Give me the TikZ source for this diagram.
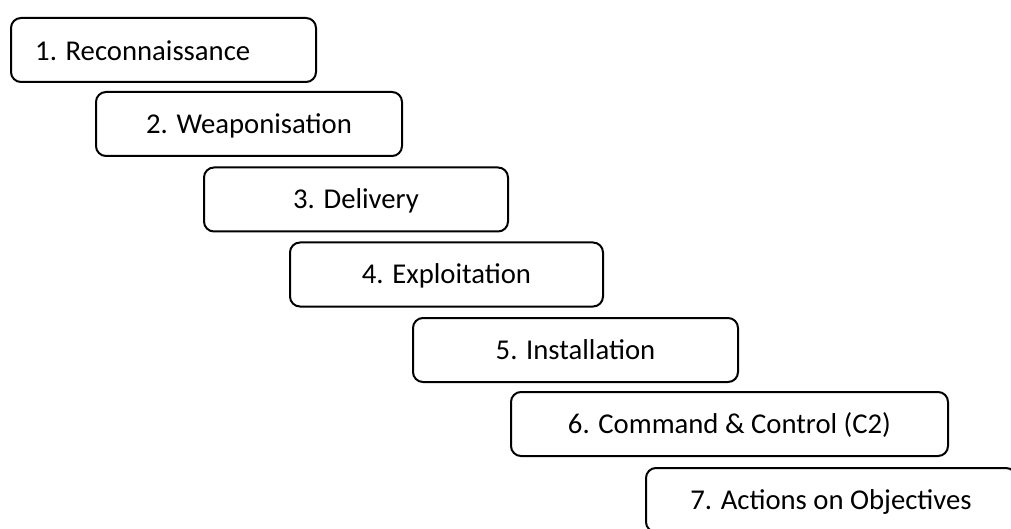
\documentclass[tikz,border=0pt]{standalone}
\usepackage{fontspec}
\setmainfont{Carlito}
\begin{document}
\begin{tikzpicture}[x=1pt,y=-1pt,
  stagebox/.style={draw=black, line width=2pt, rounded corners=10pt, fill=white,
    minimum height=64pt, inner sep=0pt, text height=18.5pt, text depth=0pt,
    font=\fontsize{28.7}{34}\selectfont},
  stagetxt/.style={inner sep=0pt, text height=18.5pt, text depth=0pt,
    font=\fontsize{28.7}{34}\selectfont}]
\useasboundingbox (0,0) rectangle (1011,529);
\clip (0,0) rectangle (1011,529);
\node[stagebox, minimum width=305pt] (s1) at (163.5,50) {};
\node[stagetxt, anchor=west] (t1) at (35,51.5) {1. Reconnaissance};
\node[stagebox, minimum width=306pt] (s2) at (249,124) {2. Weaponisation};
\node[stagebox, minimum width=304pt] (s3) at (356,199.5) {3. Delivery};
\node[stagebox, minimum width=313pt] (s4) at (446.5,274.5) {4. Exploitation};
\node[stagebox, minimum width=325pt] (s5) at (575.5,350) {5. Installation};
\node[stagebox, minimum width=437pt] (s6) at (729.5,424) {6. Command \& Control (C2)};
\node[stagebox, minimum width=370pt] (s7) at (831,500) {7. Actions on Objectives};
\end{tikzpicture}
\end{document}
